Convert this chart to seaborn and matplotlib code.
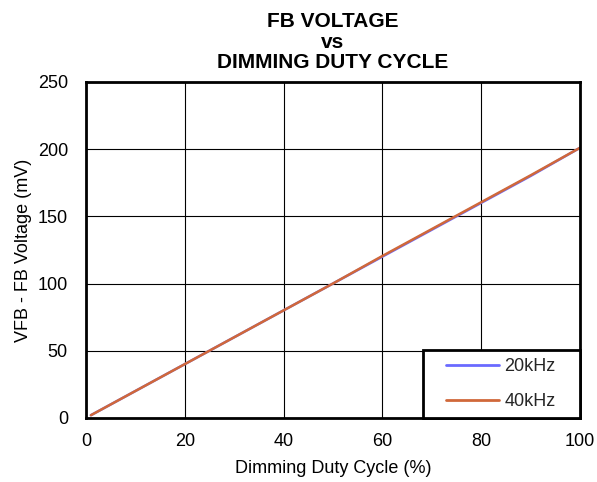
import matplotlib
matplotlib.use("Agg")
import matplotlib.pyplot as plt
from matplotlib.legend_handler import HandlerLine2D
import seaborn as sns
import pandas as pd

duty = [1, 10, 20, 30, 40, 50, 60, 70, 80, 90, 100]
vfb_20k = [2, 20, 40, 60, 80, 100, 120, 140, 160, 180, 201]
vfb_40k = [2, 20, 40, 60, 80, 100, 120.5, 140.5, 160.5, 180.5, 201]

df = pd.concat([
    pd.DataFrame({"duty": duty, "vfb": vfb_20k, "freq": "20kHz"}),
    pd.DataFrame({"duty": duty, "vfb": vfb_40k, "freq": "40kHz"}),
])

sns.set_theme(style="white")
plt.rcParams['font.family'] = ['Liberation Sans', 'DejaVu Sans']

fig = plt.figure(figsize=(5.97, 4.82), dpi=100)
ax = fig.add_axes([0.144, 0.133, 0.8275, 0.697])

sns.lineplot(data=df, x="duty", y="vfb", hue="freq",
             palette={"20kHz": "#6a6aff", "40kHz": "#d0683a"},
             linewidth=1.8, ax=ax)

ax.set_xlim(0, 100)
ax.set_ylim(0, 250)
ax.set_xticks([0, 20, 40, 60, 80, 100])
ax.set_yticks([0, 50, 100, 150, 200, 250])
ax.grid(True, color="black", linewidth=0.8)
for s in ax.spines.values():
    s.set_color("black")
    s.set_linewidth(2)
ax.tick_params(axis="y", labelsize=13, colors="black", length=0, pad=13)
ax.tick_params(axis="x", labelsize=13, colors="black", length=0, pad=11)
ax.set_xlabel("Dimming Duty Cycle (%)", fontsize=13, color="black", labelpad=7)
ax.set_ylabel("VFB - FB Voltage (mV)", fontsize=13, color="black", labelpad=4)
ax.set_title("FB VOLTAGE\nvs\nDIMMING DUTY CYCLE", fontsize=15,
             fontweight="bold", color="black", linespacing=1.1, pad=10)

# legend box sits in the lower right corner of the plot
hx = HandlerLine2D(xpad=0.86)
handles, labels = ax.get_legend_handles_labels()
leg = ax.legend(handles, labels, loc="lower right",
                bbox_to_anchor=(0.682, 0, 0.318, 0.2), mode="expand",
                borderaxespad=0, fancybox=False, framealpha=1,
                edgecolor="black", fontsize=13, title=None,
                handlelength=3.8, handletextpad=0.28, borderpad=0.43,
                labelspacing=1.0,
                handler_map={h: hx for h in handles})
leg.get_frame().set_linewidth(2)
for line in leg.get_lines():
    line.set_linewidth(2)

fig.savefig("out.png", dpi=100)
